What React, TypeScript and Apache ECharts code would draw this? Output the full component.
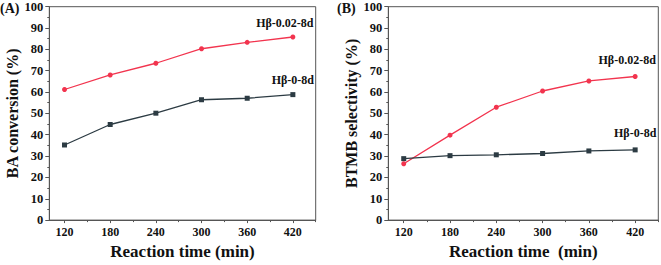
import React, { useEffect, useRef } from "react";
import * as echarts from "echarts";

const times = [120, 180, 240, 300, 360, 420];
const minorTimes = [150, 210, 270, 330, 390, 450];
const convHb002 = [61.2, 68.0, 73.5, 80.3, 83.3, 85.8];
const convHb0 = [35.2, 44.8, 50.1, 56.4, 57.1, 58.8];
const selHb002 = [26.4, 39.8, 52.9, 60.5, 65.2, 67.3];
const selHb0 = [28.8, 30.2, 30.6, 31.2, 32.4, 32.9];
const nameRed = "Hβ-0.02-8d";
const nameDark = "Hβ-0-8d";

const RED = "#f2344e";
const DARK = "#2c3b43";
const AXIS = "#555";
const FONT = "Liberation Serif";

function mk(vals: number[], name: string, labelOffset: number[]) {
  return times.map((t, i) =>
    i === times.length - 1
      ? {
          value: [t, vals[i]],
          label: {
            show: true,
            formatter: name,
            position: "top",
            offset: labelOffset,
            fontFamily: FONT,
            fontWeight: "bold",
            fontSize: 12,
            color: "#111",
          },
        }
      : [t, vals[i]]
  );
}

export default function App() {
  const ref = useRef<HTMLDivElement>(null);
  useEffect(() => {
    const chart = echarts.init(ref.current!, null, { renderer: "svg" });
    const grids = [
      { left: 49.3, top: 6.7, width: 266.4, height: 219.3 },
      { left: 388.3, top: 6.7, width: 270, height: 219.3 },
    ];
    const yNames = ["BA conversion (%)", "BTMB selectivity (%)"];
    const xNames = ["Reaction time (min)", "Reaction time  (min)"];
    const xAxes: any[] = [];
    const yAxes: any[] = [];
    [0, 1].forEach((g) => {
      xAxes.push({
        type: "value",
        gridIndex: g,
        min: 100,
        max: 450,
        name: xNames[g],
        nameLocation: "middle",
        nameGap: 20,
        nameTextStyle: { fontFamily: FONT, fontWeight: "bold", fontSize: 17, color: "#111" },
        axisLine: { lineStyle: { color: AXIS, width: 1 } },
        axisTick: { customValues: times, length: 3, lineStyle: { color: AXIS } },
        axisLabel: {
          customValues: times,
          margin: 6,
          fontFamily: FONT,
          fontWeight: "bold",
          fontSize: 12,
          color: "#111",
        },
        splitLine: { show: false },
      });
      yAxes.push({
        type: "value",
        gridIndex: g,
        min: 0,
        max: 100,
        interval: 10,
        name: yNames[g],
        nameLocation: "middle",
        nameGap: 24,
        nameTextStyle: { fontFamily: FONT, fontWeight: "bold", fontSize: 16, color: "#111" },
        axisLine: { show: true, lineStyle: { color: AXIS, width: 1 } },
        axisTick: { show: true, length: 4, lineStyle: { color: AXIS } },
        minorTick: { show: true, splitNumber: 2, length: 2, lineStyle: { color: AXIS } },
        axisLabel: {
          margin: 6,
          fontFamily: FONT,
          fontWeight: "bold",
          fontSize: 12.5,
          color: "#111",
        },
        splitLine: { show: false },
      });
    });
    // minor x ticks
    [0, 1].forEach((g) => {
      xAxes.push({
        type: "value",
        gridIndex: g,
        min: 100,
        max: 450,
        axisLine: { show: false },
        axisTick: { show: true, customValues: minorTimes, length: 2, lineStyle: { color: AXIS } },
        axisLabel: { show: false },
        splitLine: { show: false },
        position: "bottom",
      });
    });

    const series: any[] = [
      {
        type: "line",
        xAxisIndex: 0,
        yAxisIndex: 0,
        data: mk(convHb002, nameRed, [-8, -1]),
        symbol: "circle",
        symbolSize: 5,
        itemStyle: { color: RED },
        lineStyle: { color: RED, width: 1.3 },
      },
      {
        type: "line",
        xAxisIndex: 0,
        yAxisIndex: 0,
        data: mk(convHb0, nameDark, [0, -1]),
        symbol: "rect",
        symbolSize: 5,
        itemStyle: { color: DARK },
        lineStyle: { color: DARK, width: 1.3 },
      },
      {
        type: "line",
        xAxisIndex: 1,
        yAxisIndex: 1,
        data: mk(selHb002, nameRed, [-8, -3]),
        symbol: "circle",
        symbolSize: 5,
        itemStyle: { color: RED },
        lineStyle: { color: RED, width: 1.3 },
      },
      {
        type: "line",
        xAxisIndex: 1,
        yAxisIndex: 1,
        data: mk(selHb0, nameDark, [0, -3]),
        symbol: "rect",
        symbolSize: 5,
        itemStyle: { color: DARK },
        lineStyle: { color: DARK, width: 1.3 },
      },
    ];

    chart.setOption({
      animation: false,
      title: [
        { text: "(A)", left: 0, top: 1, textStyle: { fontFamily: FONT, fontWeight: "bold", fontSize: 14, color: "#111" }, padding: 0 },
        { text: "(B)", left: 337, top: 1, textStyle: { fontFamily: FONT, fontWeight: "bold", fontSize: 14, color: "#111" }, padding: 0 },
      ],
      grid: grids.map((g) => ({ ...g, show: true, borderColor: AXIS, borderWidth: 1, backgroundColor: "transparent" })),
      xAxis: xAxes,
      yAxis: yAxes,
      series,
    });
    return () => chart.dispose();
  }, []);
  return (
    <div
      ref={ref}
      style={{ position: "absolute", left: 0, top: 0, width: 661, height: 265, background: "#fff" }}
    />
  );
}
